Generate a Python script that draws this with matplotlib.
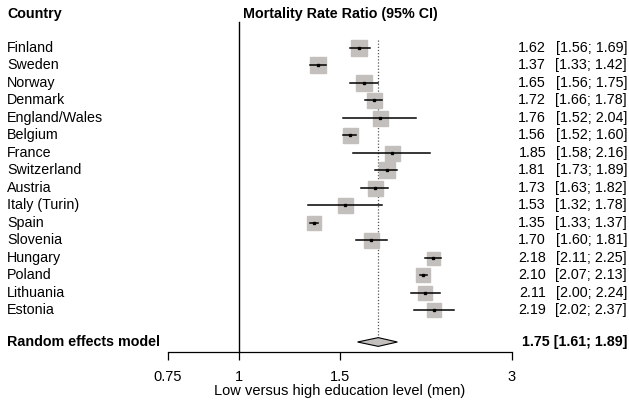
import numpy as np
import matplotlib
matplotlib.use("Agg")
import matplotlib.pyplot as plt
from matplotlib.transforms import blended_transform_factory

plt.rcParams['font.family'] = ['Liberation Sans', 'DejaVu Sans']

# study data
countries = ["Finland", "Sweden", "Norway", "Denmark", "England/Wales", "Belgium",
             "France", "Switzerland", "Austria", "Italy (Turin)", "Spain", "Slovenia",
             "Hungary", "Poland", "Lithuania", "Estonia"]
mrr = [1.62, 1.37, 1.65, 1.72, 1.76, 1.56, 1.85, 1.81, 1.73, 1.53, 1.35, 1.70,
       2.18, 2.10, 2.11, 2.19]
ci_low = [1.56, 1.33, 1.56, 1.66, 1.52, 1.52, 1.58, 1.73, 1.63, 1.32, 1.33, 1.60,
          2.11, 2.07, 2.00, 2.02]
ci_high = [1.69, 1.42, 1.75, 1.78, 2.04, 1.60, 2.16, 1.89, 1.82, 1.78, 1.37, 1.81,
           2.25, 2.13, 2.24, 2.37]
# relative study weights (box size)
weights = [16, 16, 16, 15, 15, 15, 15, 16, 15, 15, 14, 15, 13, 14, 14, 14]

re_est = 1.75
re_low = 1.61
re_high = 1.89

xticks = [0.75, 1, 1.5, 3]

W, H = 629, 401
fig = plt.figure(figsize=(W / 100, H / 100), dpi=100)

# axes placed in pixels: x 0.75..3 -> px 168..512, y px 22..352
row_px = 17.47
y0_px = 48
top_px, bot_px = 22, 352
ax = fig.add_axes([168 / W, 1 - bot_px / H, (512 - 168) / W, (bot_px - top_px) / H])
ax.set_xscale("log")
ax.set_xlim(0.75, 3)
ax.set_ylim((bot_px - y0_px) / row_px, (top_px - y0_px) / row_px)
ax.patch.set_alpha(0)
for s in ["top", "left", "right"]:
    ax.spines[s].set_visible(False)
ax.spines["bottom"].set_linewidth(0.9)
ax.set_yticks([])
ax.set_xticks(xticks)
ax.set_xticklabels(["0.75", "1", "1.5", "3"], fontsize=10.5)
ax.xaxis.set_minor_locator(matplotlib.ticker.NullLocator())
ax.tick_params(axis="x", direction="out", length=6, width=0.9, pad=7)
ax.set_xlabel("Low versus high education level (men)", fontsize=10.5, labelpad=0)

n = len(countries)
ys = np.arange(n)
re_y = (342 - y0_px) / row_px

# reference lines
ax.plot([1, 1], [ax.get_ylim()[1], ax.get_ylim()[0]], color="black", lw=1.0, clip_on=False)
ax.plot([re_est, re_est], [-0.45, re_y - 0.25], color="#555555", lw=0.9, ls=(0, (1, 1.5)))

# study boxes and CIs
box_col = "#c2bfbc"
for i in range(n):
    ax.plot(mrr[i], ys[i], marker="s", ms=weights[i] * 0.72, color=box_col,
            mec=box_col, zorder=2)
    ax.plot([ci_low[i], ci_high[i]], [ys[i], ys[i]], color="black", lw=1.1, zorder=3)
    ax.plot(mrr[i], ys[i], marker="s", ms=1.8, color="black", zorder=4)

# pooled diamond
dh = 0.25
ax.fill([re_low, re_est, re_high, re_est], [re_y, re_y - dh, re_y, re_y + dh],
        facecolor=box_col, edgecolor="black", lw=0.8, zorder=3)

# text columns
tr = blended_transform_factory(fig.transFigure, ax.transData)
fs = 10.3
ax.text(7 / W, (14 - y0_px) / row_px, "Country", transform=tr, fontsize=fs,
        fontweight="bold", va="center", ha="left")
ax.text(243 / W, (14 - y0_px) / row_px, "Mortality Rate Ratio (95% CI)", transform=tr,
        fontsize=fs, fontweight="bold", va="center", ha="left")
for i in range(n):
    ax.text(7 / W, ys[i], countries[i], transform=tr, fontsize=fs, va="center", ha="left")
    ax.text(546 / W, ys[i], f"{mrr[i]:.2f}", transform=tr, fontsize=fs, va="center", ha="right")
    ax.text(627 / W, ys[i], f"[{ci_low[i]:.2f}; {ci_high[i]:.2f}]", transform=tr,
            fontsize=fs, va="center", ha="right")

ax.text(7 / W, re_y, "Random effects model", transform=tr, fontsize=fs,
        fontweight="bold", va="center", ha="left")
ax.text(627 / W, re_y, f"{re_est:.2f} [{re_low:.2f}; {re_high:.2f}]", transform=tr,
        fontsize=fs, fontweight="bold", va="center", ha="right")

fig.savefig("out.png", dpi=100)
